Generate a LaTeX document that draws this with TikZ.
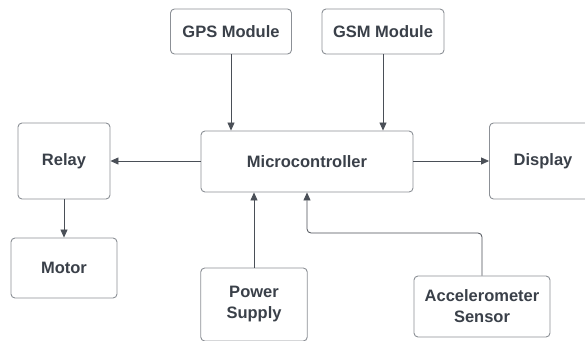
\documentclass[tikz,border=0pt]{standalone}
\usepackage{fontspec}
\setmainfont{Liberation Sans}
\usetikzlibrary{arrows.meta}
\definecolor{boxline}{HTML}{8C9096}
\definecolor{wire}{HTML}{4A4F57}
\definecolor{label}{HTML}{3A4049}
\tikzset{
  block/.style={draw=boxline, line width=0.9pt, rounded corners=4pt, fill=white,
    align=center, text=label, font=\fontsize{16.5}{21}\selectfont\bfseries,
    inner sep=0pt},
  link/.style={draw=wire, line width=0.8pt, -{Triangle[length=8pt,width=7pt]}},
}
\begin{document}
\begin{tikzpicture}[x=1pt,y=-1pt]
  \useasboundingbox[fill=white] (0,0) rectangle (585,340);

  \node[block, minimum width=121pt, minimum height=45pt] (gps) at (231,31.5) {GPS Module};
  \node[block, minimum width=122pt, minimum height=45pt] (gsm) at (383,31.5) {GSM Module};
  \node[block, minimum width=212pt, minimum height=61pt] (mcu) at (307,161.5) {Microcontroller};
  \node[block, minimum width=92pt, minimum height=76pt] (relay) at (64,161) {Relay};
  \node[block, minimum width=107pt, minimum height=76pt] (disp) at (543,161) {Display};
  \node[block, minimum width=106pt, minimum height=60pt] (motor) at (64,268) {Motor};
  \node[block, minimum width=106.5pt, minimum height=73pt] (power) at (254,304.5) {Power\\Supply};
  \node[block, minimum width=136pt, minimum height=61pt] (accel) at (482,306.5) {Accelerometer\\Sensor};

  \coordinate (bend) at (482,233);

  \draw[link] (gps.south) -- (gps.south |- mcu.north);
  \draw[link] (gsm.south) -- (gsm.south |- mcu.north);
  \draw[link] (mcu.west |- relay.east) -- (relay.east);
  \draw[link] (mcu.east |- disp.west) -- (disp.west);
  \draw[link] (relay.south) -- (motor.north);
  \draw[link] (power.north) -- (power.north |- mcu.south);
  \draw[link, rounded corners=4pt] (accel.north) -- (bend) -- (bend -| mcu.south) -- (mcu.south);
\end{tikzpicture}
\end{document}
